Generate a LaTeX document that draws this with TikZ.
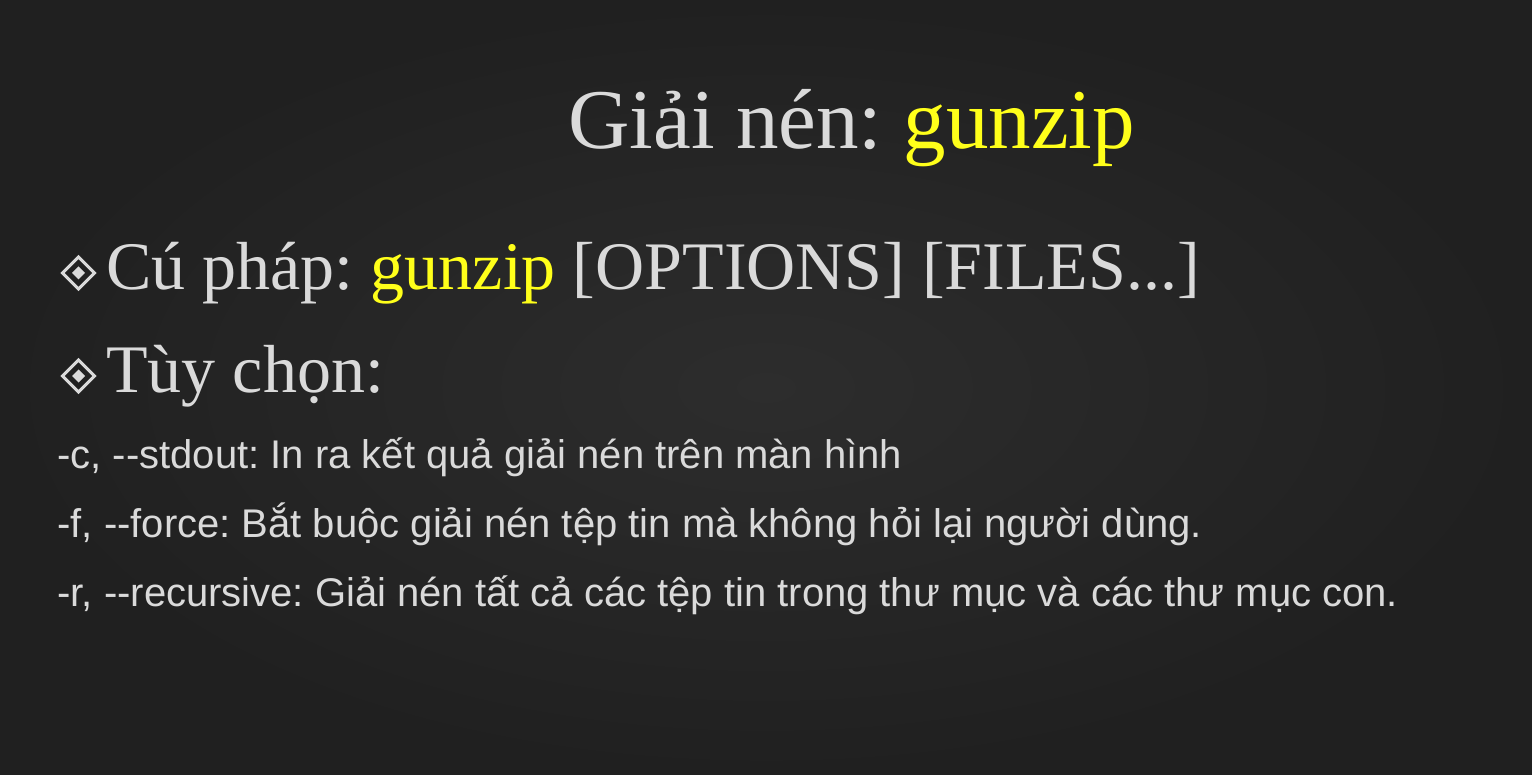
\documentclass[tikz,border=0pt]{standalone}
\usepackage{fontspec}
\setmainfont{Liberation Serif}
\newfontfamily\optfont{Liberation Sans}[Ligatures=TeXOff]
\definecolor{slidebg}{HTML}{2D2D2D}
\definecolor{slideedge}{HTML}{202020}
\definecolor{slidetext}{HTML}{DADADA}
\definecolor{slidehl}{HTML}{FFFF1A}
\frenchspacing

\begin{document}
\begin{tikzpicture}[x=0.5pt, y=-0.5pt,
    heading/.style={anchor=base west, inner sep=0, text=slidetext, font=\fontsize{42.5}{50}\selectfont},
    itemtext/.style={anchor=base west, inner sep=0, text=slidetext, font=\fontsize{34}{40}\selectfont},
    opttext/.style={anchor=base west, inner sep=0, text=slidetext, font=\optfont\fontsize{20}{24}\selectfont}]
    % Slide background
    \shade[inner color=slidebg, outer color=slideedge] (0,0) rectangle (1532,775);
    \useasboundingbox (0,0) rectangle (1532,775);

    % Title
    \node[heading] (title) at (568,149) {Giải nén: \textcolor{slidehl}{gunzip}};

    % Bullet marks
    \foreach \y in {273, 376} {
        \draw[slidetext, line width=1.5pt] (78.5,\y-16) -- (94.5,\y) -- (78.5,\y+16) -- (62.5,\y) -- cycle;
        \fill[slidetext] (78.5,\y-6.5) -- (85,\y) -- (78.5,\y+6.5) -- (72,\y) -- cycle;
    }

    % Bullet lines
    \node[itemtext] (syntax) at (106,290) {Cú pháp: \textcolor{slidehl}{gunzip} [OPTIONS] [FILES...]};
    \node[itemtext] (choices) at (106,393) {Tùy chọn:};

    % Options
    \node[opttext] (optc) at (57,468) {-c, --stdout: In ra kết quả giải nén trên màn hình};
    \node[opttext] (optf) at (57,537) {-f, --force: Bắt buộc giải nén tệp tin mà không hỏi lại người dùng.};
    \node[opttext] (optr) at (57,606) {-r, --recursive: Giải nén tất cả các tệp tin trong thư mục và các thư mục con.};
\end{tikzpicture}
\end{document}
